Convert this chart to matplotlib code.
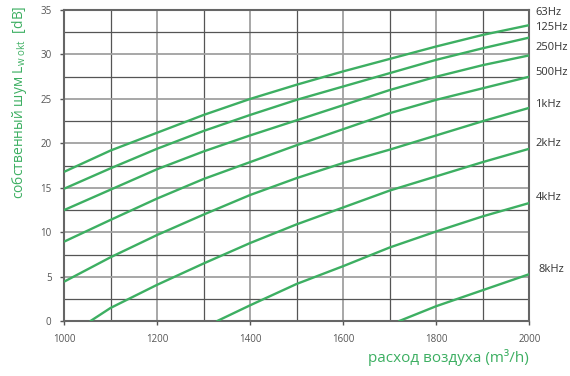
import numpy as np
import matplotlib.pyplot as plt
from matplotlib.ticker import MultipleLocator

# air flow (m3/h) and sound levels (dB) per octave band
flow = [1000, 1100, 1200, 1300, 1400, 1500, 1600, 1700, 1800, 1900, 2000]
hz63 = [16.8, 19.2, 21.2, 23.2, 25.0, 26.6, 28.1, 29.5, 30.9, 32.2, 33.3]
hz125 = [14.9, 17.2, 19.4, 21.4, 23.2, 24.9, 26.4, 27.9, 29.4, 30.7, 31.9]
hz250 = [12.5, 14.8, 17.1, 19.1, 20.9, 22.6, 24.3, 26.0, 27.5, 28.8, 29.9]
hz500 = [8.95, 11.4, 13.8, 16.0, 17.9, 19.8, 21.6, 23.4, 24.9, 26.2, 27.5]
khz1 = [4.45, 7.2, 9.7, 12.0, 14.2, 16.1, 17.8, 19.3, 20.9, 22.5, 24.0]

flow_2k = [1056, 1100, 1200, 1300, 1400, 1500, 1600, 1700, 1800, 1900, 2000]
khz2 = [0.0, 1.5, 4.1, 6.5, 8.8, 10.9, 12.8, 14.7, 16.3, 17.9, 19.4]
flow_4k = [1328, 1400, 1500, 1600, 1700, 1800, 1900, 2000]
khz4 = [0.0, 1.8, 4.2, 6.2, 8.3, 10.1, 11.8, 13.3]
flow_8k = [1719, 1800, 1900, 2000]
khz8 = [0.0, 1.7, 3.5, 5.3]

band_labels = ['63Hz', '125Hz', '250Hz', '500Hz', '1kHz', '2kHz', '4kHz', '8kHz']

green = '#3daf62'
plt.rcParams['font.family'] = ['Open Sans', 'DejaVu Sans']

fig = plt.figure(figsize=(5.7, 3.76), dpi=100)
ax = fig.add_axes([0.1123, 0.1455, 0.8163, 0.8279])

series = [(flow, hz63), (flow, hz125), (flow, hz250), (flow, hz500),
          (flow, khz1), (flow_2k, khz2), (flow_4k, khz4), (flow_8k, khz8)]
for xs, ys in series:
    ax.plot(xs, ys, color=green, lw=1.7, solid_capstyle='butt', zorder=3)

ax.set_xlim(1000, 2000)
ax.set_ylim(0, 35)
ax.xaxis.set_major_locator(MultipleLocator(200))
ax.xaxis.set_minor_locator(MultipleLocator(100))
ax.yaxis.set_major_locator(MultipleLocator(5))
ax.yaxis.set_minor_locator(MultipleLocator(2.5))
ax.grid(which='major', color='#a0a0a0', lw=1.3, zorder=1)
ax.grid(which='minor', color='#555555', lw=0.9, zorder=1)
ax.tick_params(which='major', labelsize=7, labelcolor='#555555', color='#555555',
               length=3, width=1, pad=6)
ax.tick_params(which='minor', length=0)
for s in ax.spines.values():
    s.set_color('#666666')
    s.set_linewidth(1.5)

# band labels to the right of the curves
label_y = [34.7, 33.0, 30.8, 28.0, 24.4, 20.0, 13.9, 5.8]
for name, yy in zip(band_labels, label_y):
    dx = 2013 if name != '8kHz' else 2020
    ax.text(dx, yy, name, fontsize=8, color='#333333', va='center', ha='left',
            clip_on=False)

fig.text(0.928, 0.05, 'расход воздуха (m³/h)', color=green,
         fontsize=11, ha='right', va='center')
fig.text(0.035, 0.727, 'собственный шум L$_{\\mathregular{w\\ okt}}$  [dB]', color=green,
         fontsize=10, rotation=90, ha='center', va='center')

fig.savefig('out.png', dpi=100)
